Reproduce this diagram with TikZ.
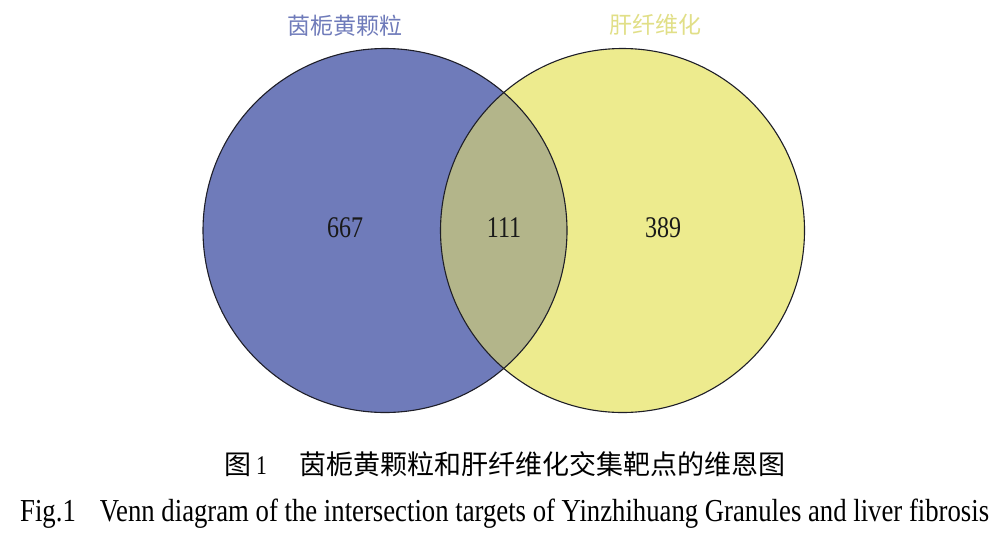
\documentclass[tikz,border=0pt]{standalone}
\usepackage{fontspec}
\setmainfont{Liberation Serif}
\newfontfamily\cjk{Noto Sans CJK SC}
\newfontfamily\narrowserif[FakeStretch=0.8]{Liberation Serif}
\newfontfamily\capserif[FakeStretch=0.835]{Liberation Serif}
\definecolor{gardenia}{HTML}{6F7BBA}
\definecolor{liverset}{HTML}{EDEB8E}
\definecolor{overlap}{HTML}{B3B58A}
\definecolor{rimcol}{HTML}{1E1E28}
\begin{document}
\begin{tikzpicture}[x=1pt,y=-1pt,
    setlabel/.style={font=\cjk\fontsize{23}{23}\selectfont},
    count/.style={font=\narrowserif\fontsize{30}{30}\selectfont, text=black!90},
    rim/.style={draw=rimcol, line width=1.1pt}]
      \useasboundingbox[fill=white] (0,0) rectangle (1000,544);
      % the two sets
      \fill[gardenia] (385,230.5) circle (182);
      \fill[liverset] (622.5,230.5) circle (182);
      \begin{scope}
        \clip (385,230.5) circle (182);
        \fill[overlap] (622.5,230.5) circle (182);
      \end{scope}
      \draw[rim] (385,230.5) circle (182);
      \draw[rim] (622.5,230.5) circle (182);
      % counts
      \node[count] (onlyleft) at (345,228) {667};
      \node[count] (both) at (504,228) {111};
      \node[count] (onlyright) at (663,228) {389};
      % set names
      \node[setlabel, text=gardenia] (leftname) at (345,26) {茵栀黄颗粒};
      \node[setlabel, text=liverset!95!black] (rightname) at (655,25) {肝纤维化};
      % caption
      \node[anchor=west, inner sep=0pt, font=\narrowserif\fontsize{27}{27}\selectfont] (capcn) at (224,464)
        {{\cjk 图}\hspace{5pt}1\hspace{32pt}{\cjk 茵栀黄颗粒和肝纤维化交集靶点的维恩图}};
      \node[anchor=west, inner sep=0pt, font=\capserif\fontsize{32}{32}\selectfont] (capen) at (20,514)
        {Fig.1\hspace{24pt}Venn diagram of the intersection targets of Yinzhihuang Granules and liver fibrosis};
    \end{tikzpicture}
\end{document}
